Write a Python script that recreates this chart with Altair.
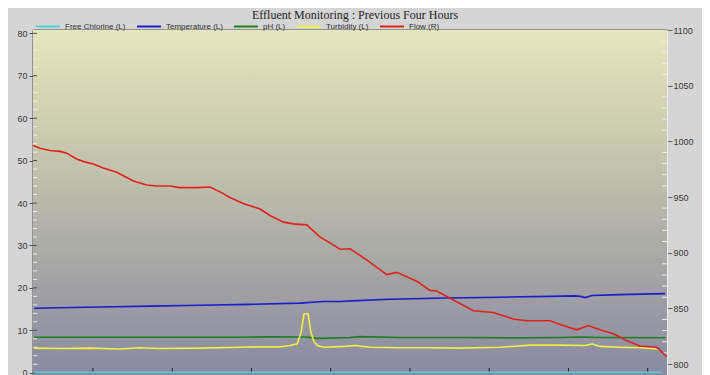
import altair as alt
import pandas as pd

title_text = "Effluent Monitoring : Previous Four Hours"
series_names = ["Free Chlorine (L)", "Temperature (L)", "pH (L)", "Turbidity (L)", "Flow (R)"]
series_colors = ["#52cfd6", "#1c1cc8", "#1f7f1f", "#f0f040", "#e0221e"]

# minutes elapsed in the four-hour window
chl_min = [0.4, 60.0, 120.0, 180.0, 238.0]
chl_val = [0.1, 0.1, 0.1, 0.1, 0.1]

temp_min = [0.4, 10.2, 25.4, 44.3, 63.2, 82.1, 101.1, 109.8, 116.2, 122.6, 135.1, 156.0,
            176.8, 195.7, 205.2, 207.1, 209.0, 211.6, 222.2, 239.3]
temp_val = [15.2, 15.3, 15.5, 15.7, 15.9, 16.1, 16.4, 16.8, 16.8, 17.0, 17.3, 17.6,
            17.8, 18.0, 18.1, 18.0, 17.7, 18.2, 18.4, 18.65]

ph_min = [0.4, 44.3, 78.4, 89.7, 103.0, 107.9, 120.0, 123.8, 138.9, 161.6, 184.4, 199.5,
          207.1, 214.6, 239.3]
ph_val = [8.35, 8.35, 8.35, 8.45, 8.4, 8.1, 8.3, 8.5, 8.3, 8.3, 8.2, 8.3, 8.4, 8.3, 8.25]

turb_min = [0.4, 10.2, 21.6, 32.9, 40.5, 48.1, 63.2, 78.4, 85.9, 93.5, 97.3, 100.0, 101.5,
            102.6, 104.1, 105.2, 106.4, 108.0, 110.5, 118.1, 121.9, 127.6, 138.9, 150.3,
            161.6, 176.8, 188.1, 199.5, 209.0, 211.6, 214.6, 222.2, 229.8, 236.6]
turb_val = [5.8, 5.7, 5.8, 5.6, 5.9, 5.7, 5.8, 6.0, 6.1, 6.1, 6.4, 6.8, 9.5,
            13.9, 13.9, 9.5, 7.3, 6.3, 6.0, 6.2, 6.4, 6.0, 5.9, 5.9,
            5.8, 6.0, 6.5, 6.5, 6.4, 6.8, 6.2, 6.0, 5.9, 5.6]

flow_min = [0.1, 2.6, 6.4, 10.2, 12.8, 16.5, 19.0, 22.8, 26.6, 31.7, 38.0, 43.0, 46.8, 51.9,
            55.6, 62.0, 67.0, 70.8, 74.6, 79.6, 86.0, 89.7, 94.8, 98.5, 103.6, 108.6, 112.4,
            116.2, 120.0, 126.3, 133.9, 137.7, 145.3, 150.3, 152.8, 157.9, 166.7, 174.2,
            181.8, 186.9, 195.7, 200.7, 205.8, 210.2, 214.6, 219.7, 224.7, 229.8, 235.5,
            236.7, 239.9]
flow_val = [996.2, 993.8, 991.8, 991.0, 989.4, 984.1, 982.0, 979.6, 976.1, 972.3, 964.3,
            960.8, 959.9, 959.9, 958.4, 958.4, 959.0, 954.6, 949.6, 944.2, 939.2, 933.4,
            927.4, 925.9, 925.0, 914.2, 908.8, 903.1, 903.5, 893.5, 880.3, 882.3, 874.3,
            866.1, 865.5, 859.0, 847.8, 846.3, 840.4, 838.9, 838.9, 834.5, 830.7, 834.5,
            830.7, 827.2, 821.2, 816.2, 815.3, 813.9, 806.5]

left_ticks = [0, 10, 20, 30, 40, 50, 60, 70, 80]
left_minor = [2, 4, 6, 8, 12, 14, 16, 18, 22, 24, 26, 28, 32, 34, 36, 38, 42, 44, 46, 48,
              52, 54, 56, 58, 62, 64, 66, 68, 72, 74, 76, 78]
right_ticks = [800, 850, 900, 950, 1000, 1050, 1100]
right_minor = [810, 820, 830, 840, 860, 870, 880, 890, 910, 920, 930, 940, 960, 970, 980,
               990, 1010, 1020, 1030, 1040, 1060, 1070, 1080, 1090]
x_tick_min = [22.7, 52.7, 82.7, 112.7, 142.7, 172.7, 202.7, 232.7]

W, H = 634, 345


def frame(mins, vals, name):
    return pd.DataFrame({"minute": mins, "value": vals, "series": name})


x_scale = alt.Scale(domain=[0, 240], nice=False, zero=False)
left_scale = alt.Scale(domain=[-0.54, 80.78], nice=False, zero=False)
right_scale = alt.Scale(domain=[790.12, 1100], nice=False, zero=False)
color_scale = alt.Scale(domain=series_names, range=series_colors)

legend = alt.Legend(
    orient="none", legendX=2, legendY=-16.5, direction="horizontal", title=None,
    symbolType="stroke", symbolSize=576, symbolStrokeWidth=2,
    labelFont="Liberation Sans", labelFontSize=8, labelColor="#333333",
    labelOffset=4, columnPadding=7, padding=0, rowPadding=0,
)

left_axis = alt.Axis(orient="left", values=left_ticks, title=None, grid=False, format="d",
                     tickSize=4, tickColor="#505050", labelPadding=2,
                     domainColor="#505050", domainWidth=2)
right_axis = alt.Axis(orient="right", values=right_ticks, title=None, grid=False, format="d",
                      tickSize=5, tickColor="#606060", labelPadding=1,
                      domainColor="#ececec", domainWidth=1)
top_axis = alt.Axis(orient="top", labels=False, ticks=False, title=None, grid=False,
                    domainColor="#505050", domainWidth=2)


def line_layer(df, scale, yaxis):
    return alt.Chart(df).mark_line(strokeWidth=1.6).encode(
        x=alt.X("minute:Q", scale=x_scale, axis=top_axis),
        y=alt.Y("value:Q", scale=scale, axis=yaxis),
        color=alt.Color("series:N", scale=color_scale, legend=legend),
    )


bg = alt.Chart(pd.DataFrame({"a": [0]})).mark_rect(
    fill=alt.LinearGradient(
        gradient="linear", x1=0, x2=0, y1=0, y2=1,
        stops=[alt.GradientStop(color="#e6e6bd", offset=0),
               alt.GradientStop(color="#c4c4ae", offset=0.38),
               alt.GradientStop(color="#a3a3a5", offset=0.72),
               alt.GradientStop(color="#8a8aa2", offset=1)])
).encode(x=alt.value(0), x2=alt.value(W), y=alt.value(0), y2=alt.value(H))

minor_l = alt.Chart(pd.DataFrame({"value": left_minor})).mark_rule(color="#ececec", strokeWidth=1).encode(
    y=alt.Y("value:Q", scale=left_scale, axis=left_axis), x=alt.value(0), x2=alt.value(4))
major_l = alt.Chart(pd.DataFrame({"value": left_ticks})).mark_rule(color="#505050", strokeWidth=1).encode(
    y=alt.Y("value:Q", scale=left_scale, axis=left_axis), x=alt.value(0), x2=alt.value(4))
xticks = alt.Chart(pd.DataFrame({"minute": x_tick_min})).mark_rule(color="#202020", strokeWidth=1).encode(
    x=alt.X("minute:Q", scale=x_scale, axis=top_axis), y=alt.value(H - 7), y2=alt.value(H - 3))

title = alt.Chart(pd.DataFrame({"t": [title_text]})).mark_text(
    font="Liberation Serif", fontSize=12, color="#1e1e1e", align="center", baseline="alphabetic"
).encode(text="t:N", x=alt.value(322), y=alt.value(-11.3))

left = alt.layer(
    bg, minor_l, major_l, xticks,
    line_layer(frame(chl_min, chl_val, series_names[0]), left_scale, left_axis),
    line_layer(frame(temp_min, temp_val, series_names[1]), left_scale, left_axis),
    line_layer(frame(ph_min, ph_val, series_names[2]), left_scale, left_axis),
    line_layer(frame(turb_min, turb_val, series_names[3]), left_scale, left_axis),
    title,
)

minor_r = alt.Chart(pd.DataFrame({"value": right_minor})).mark_rule(color="#ececec", strokeWidth=1).encode(
    y=alt.Y("value:Q", scale=right_scale, axis=right_axis), x=alt.value(W - 5), x2=alt.value(W))

right = alt.layer(
    minor_r,
    line_layer(frame(flow_min, flow_val, series_names[4]), right_scale, right_axis),
)

chart = alt.layer(left, right).resolve_scale(y="independent").properties(
    width=W, height=H,
    padding={"left": 25, "top": 22, "right": 35, "bottom": 0},
    autosize=alt.AutoSizeParams(type="none"),
    background="#d5d5d5",
).configure_view(stroke=None).configure_axis(
    labelFont="Liberation Sans", labelFontSize=9, labelColor="#3a3a3a"
)

chart.save("out.html", embed_options={"renderer": "svg", "actions": False})
